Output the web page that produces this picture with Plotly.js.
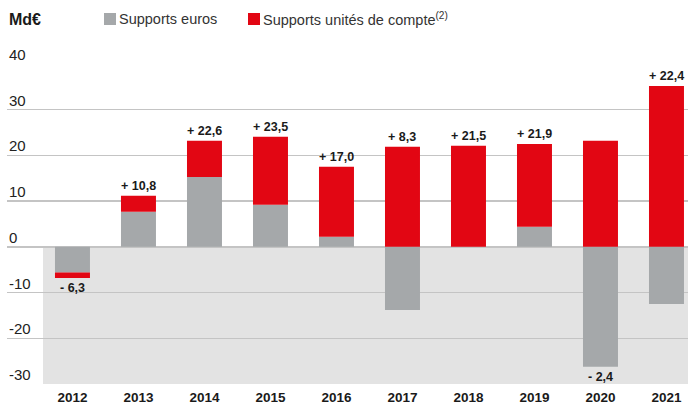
<!DOCTYPE html>
<html>
<head>
<meta charset="utf-8">
<script src="https://cdn.plot.ly/plotly-3.0.1.min.js"></script>
<style>html,body{margin:0;padding:0;background:#fff}</style>
</head>
<body>
<div id="chart" style="width:688px;height:407px"></div>
<script>
// ---- data ----
var years = [2012, 2013, 2014, 2015, 2016, 2017, 2018, 2019, 2020, 2021];
var yearLabels = ['2012','2013','2014','2015','2016','2017','2018','2019','2020','2021'];
var seriesNames = ['Supports euros', 'Supports unités de compte'];
var eurosValues = [-5.6, 7.7, 15.3, 9.2, 2.2, -13.8, 0.0, 4.4, -26.2, -12.5];
var ucValues = [-1.2, 3.5, 7.9, 14.9, 15.3, 21.9, 22.1, 18.1, 23.2, 35.2];
var netTotals = [-6.3, 10.8, 22.6, 23.5, 17.0, 8.3, 21.5, 21.9, -2.4, 22.4];
var yTickVals = [40, 30, 20, 10, 0, -10, -20, -30];
var yTickText = ['40', '30', '20', '10', '0', '-10', '-20', '-30'];
var unitLabel = 'Md€';

// ---- style ----
var RED = '#e20613', GREY = '#a5a8aa', SHADE = '#e3e3e3', GRID = '#c4c4c4', INK = '#1a1a1a';
var FONT = '"Liberation Sans", Arial, sans-serif';
var W = 688, H = 407, ML = 7, MR = 0, MT = 64, MB = 23;
var PW = W - ML - MR, PH = H - MT - MB;
function px(x) { return (x - ML) / PW; }
function py(y) { return (H - MB - y) / PH; }

var traces = [
  { type: 'bar', x: years, y: eurosValues, name: seriesNames[0], marker: { color: GREY, line: { width: 0 } }, hoverinfo: 'x+y' },
  { type: 'bar', x: years, y: ucValues, name: seriesNames[1], marker: { color: RED, line: { width: 0 } }, hoverinfo: 'x+y' }
];

var annotations = [];
// y tick labels above gridlines
yTickVals.forEach(function (v, i) {
  annotations.push({ xref: 'paper', yref: 'y', x: 0, y: v, xanchor: 'left', yanchor: 'bottom', yshift: -1,
    text: yTickText[i], showarrow: false, font: { family: FONT, size: 15, color: '#222' } });
});
// value labels
years.forEach(function (yr, i) {
  var pos = 0, neg = 0;
  [eurosValues[i], ucValues[i]].forEach(function (v) { if (v >= 0) pos += v; else neg += v; });
  var n = netTotals[i];
  var txt = (n >= 0 ? '+ ' : '- ') + Math.abs(n).toFixed(1).replace('.', ',');
  annotations.push({ xref: 'x', yref: 'y', x: yr, y: n >= 0 ? pos : neg,
    xanchor: 'center', yanchor: n >= 0 ? 'bottom' : 'top', yshift: n >= 0 ? 1 : -1,
    text: txt, showarrow: false, font: { family: FONT, size: 12.5, color: INK, weight: 'bold' } });
});
// unit + legend
annotations.push({ xref: 'paper', yref: 'paper', x: 0, y: py(19), xanchor: 'left', yanchor: 'middle',
  text: unitLabel, showarrow: false, font: { family: FONT, size: 16, color: INK, weight: 'bold' } });
annotations.push({ xref: 'paper', yref: 'paper', x: px(117), y: py(19), xanchor: 'left', yanchor: 'middle',
  text: seriesNames[0], showarrow: false, font: { family: FONT, size: 14.5, color: '#333' } });
annotations.push({ xref: 'paper', yref: 'paper', x: px(261), y: py(19), xanchor: 'left', yanchor: 'middle',
  text: seriesNames[1] + '<sup>(2)</sup>', showarrow: false, font: { family: FONT, size: 14.5, color: '#333' } });

var shapes = [
  { type: 'rect', layer: 'below', xref: 'paper', yref: 'y', x0: px(43), x1: 1, y0: -30, y1: 0, fillcolor: SHADE, line: { width: 0 } },
  { type: 'rect', xref: 'paper', yref: 'paper', x0: px(104), x1: px(116), y0: py(25), y1: py(13), fillcolor: GREY, line: { width: 0 } },
  { type: 'rect', xref: 'paper', yref: 'paper', x0: px(248), x1: px(260), y0: py(25), y1: py(13), fillcolor: RED, line: { width: 0 } }
];

var layout = {
  width: W, height: H,
  margin: { l: ML, r: MR, t: MT, b: MB, pad: 0 },
  paper_bgcolor: '#fff', plot_bgcolor: 'rgba(0,0,0,0)',
  barmode: 'relative', bargap: 0.47,
  showlegend: false,
  xaxis: {
    type: 'linear', range: [2011.008, 2021.326],
    tickvals: years, ticktext: yearLabels,
    showgrid: false, zeroline: false, showline: false, ticks: '',
    tickfont: { family: FONT, size: 13.5, color: INK, weight: 'bold' },
    ticklabelstandoff: 3, fixedrange: true
  },
  yaxis: {
    range: [-30, 40], tickvals: yTickVals, showticklabels: false,
    showgrid: true, gridcolor: GRID, gridwidth: 1.5,
    zeroline: true, zerolinecolor: GRID, zerolinewidth: 1.5,
    showline: false, ticks: '', fixedrange: true
  },
  shapes: shapes,
  annotations: annotations
};

Plotly.newPlot('chart', traces, layout, { displayModeBar: false, staticPlot: true });
</script>
</body>
</html>
